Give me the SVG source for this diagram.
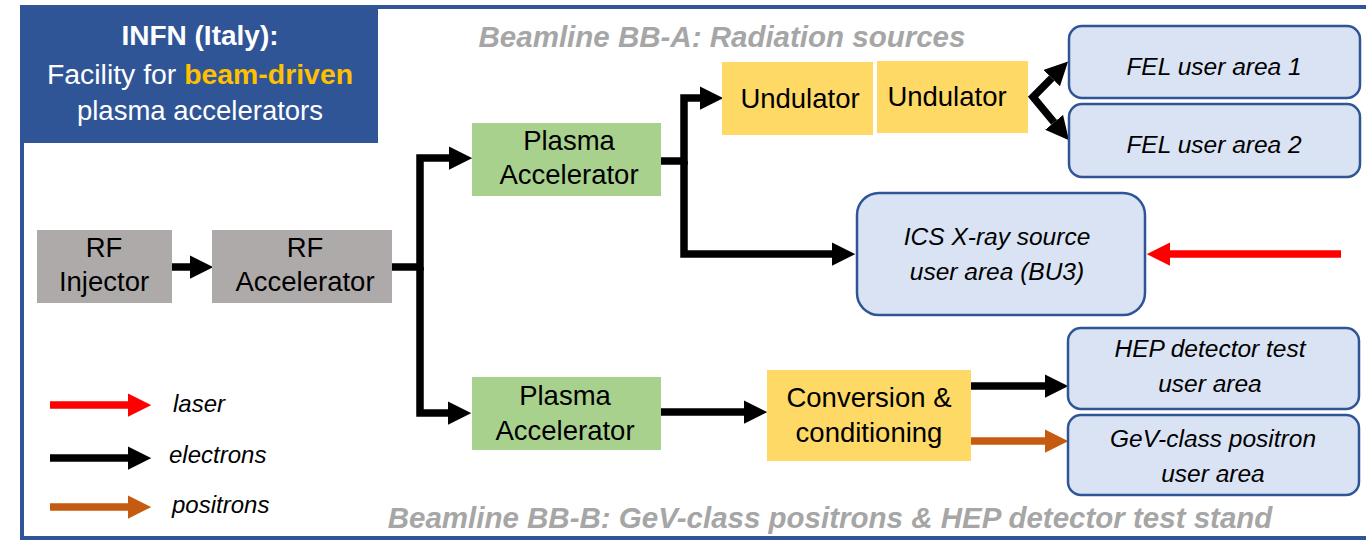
<svg xmlns="http://www.w3.org/2000/svg" width="1366" height="541" viewBox="0 0 1366 541">
<defs>
<style>
text{font-family:"Liberation Sans",Arial,sans-serif;text-anchor:middle;fill:#000}
.lbl{font-size:27.5px}
.it{font-size:24.5px;font-style:italic}
.leg{font-size:24px;font-style:italic;text-anchor:start}
.bl{font-size:29.5px;font-weight:bold;font-style:italic;fill:#A6A6A6}
.gray{fill:#AEAAAA}
.green{fill:#A9D18E}
.yellow{fill:#FFD966}
.user{fill:#DAE3F3;stroke:#2F5597;stroke-width:2.5}
.c{fill:none;stroke-width:7.5;stroke-linejoin:miter;stroke-linecap:butt}
.k{stroke:#000}
.r{stroke:#FF0000}
.o{stroke:#C55A11}
</style>
<marker id="ak" viewBox="0 0 10 10" refX="0" refY="5" markerWidth="3.1" markerHeight="3.1" orient="auto-start-reverse"><path d="M0,0L10,5L0,10z" fill="#000"/></marker>
<marker id="ar" viewBox="0 0 10 10" refX="0" refY="5" markerWidth="3.1" markerHeight="3.1" orient="auto"><path d="M0,0L10,5L0,10z" fill="#FF0000"/></marker>
<marker id="ao" viewBox="0 0 10 10" refX="0" refY="5" markerWidth="3.1" markerHeight="3.1" orient="auto"><path d="M0,0L10,5L0,10z" fill="#C55A11"/></marker>
</defs>
<rect width="1366" height="541" fill="#fff"/>
<g id="frame">
<path d="M22,540V7H1366M20,538H1366" fill="none" stroke="#2F5597" stroke-width="4"/>
</g>
<g id="title">
<rect x="20" y="5" width="358" height="138" fill="#2F5597"/>
<text x="200" y="45" style="font-size:28px;font-weight:bold;fill:#fff">INFN (Italy):</text>
<text x="200" y="84" style="font-size:28.4px;fill:#fff">Facility for <tspan style="font-weight:bold;fill:#FFC000">beam-driven</tspan></text>
<text x="200" y="120" style="font-size:27.5px;fill:#fff">plasma accelerators</text>
</g>
<g id="beamline-a"><text class="bl" x="722" y="47">Beamline BB-A: Radiation sources</text></g>
<g id="beamline-b"><text class="bl" x="830" y="528">Beamline BB-B: GeV-class positrons &amp; HEP detector test stand</text></g>
<g id="connectors">
<path class="c k" d="M172,267H190" marker-end="url(#ak)"/>
<path class="c k" d="M392,267H420V158H449" marker-end="url(#ak)"/>
<path class="c k" d="M420,267V413H448" marker-end="url(#ak)"/>
<path class="c k" d="M661,161H684V98H700" marker-end="url(#ak)"/>
<path class="c k" d="M684,161V254H832" marker-end="url(#ak)"/>
<path class="c k" d="M1051.7,78.1L1033,97L1054.1,122.3" marker-start="url(#ak)" marker-end="url(#ak)"/>
<path class="c r" d="M1341,254H1170" marker-end="url(#ar)"/>
<path class="c k" d="M661,412H744" marker-end="url(#ak)"/>
<path class="c k" d="M971,386H1045" marker-end="url(#ak)"/>
<path class="c o" d="M971,441H1045" marker-end="url(#ao)"/>
</g>
<g id="rf-injector"><rect class="gray" x="37" y="230" width="135" height="73"/><text class="lbl" x="104" y="257">RF</text><text class="lbl" x="104" y="291">Injector</text></g>
<g id="rf-accelerator"><rect class="gray" x="212" y="230" width="180" height="73"/><text class="lbl" x="305" y="257">RF</text><text class="lbl" x="305" y="291">Accelerator</text></g>
<g id="plasma-1"><rect class="green" x="472" y="123" width="189" height="73"/><text class="lbl" x="569" y="150">Plasma</text><text class="lbl" x="569" y="184">Accelerator</text></g>
<g id="plasma-2"><rect class="green" x="472" y="377" width="189" height="73"/><text class="lbl" x="565" y="405">Plasma</text><text class="lbl" x="565" y="440">Accelerator</text></g>
<g id="undulator-1"><rect class="yellow" x="722" y="62" width="151" height="73"/><text class="lbl" x="800" y="108">Undulator</text></g>
<g id="undulator-2"><rect class="yellow" x="877" y="61" width="151" height="72"/><text class="lbl" x="947" y="106">Undulator</text></g>
<g id="conversion"><rect class="yellow" x="767" y="370" width="204" height="91"/><text class="lbl" x="869" y="407">Conversion &amp;</text><text class="lbl" x="869" y="442">conditioning</text></g>
<g id="fel-1"><rect class="user" x="1069" y="26" width="291" height="72" rx="13"/><text class="it" x="1214" y="75">FEL user area 1</text></g>
<g id="fel-2"><rect class="user" x="1069" y="104" width="291" height="73" rx="13"/><text class="it" x="1214" y="153">FEL user area 2</text></g>
<g id="ics"><rect class="user" x="857" y="193" width="288" height="122" rx="22"/><text class="it" x="997" y="245">ICS X-ray source</text><text class="it" x="997" y="280">user area (BU3)</text></g>
<g id="hep"><rect class="user" x="1068" y="328" width="291" height="81" rx="13"/><text class="it" x="1210" y="357">HEP detector test</text><text class="it" x="1210" y="392">user area</text></g>
<g id="gev"><rect class="user" x="1068" y="415" width="291" height="80" rx="13"/><text class="it" x="1213" y="447">GeV-class positron</text><text class="it" x="1213" y="482">user area</text></g>
<g id="legend">
<path class="c r" d="M50,405H128" marker-end="url(#ar)"/>
<path class="c k" d="M50,458H128" marker-end="url(#ak)"/>
<path class="c o" d="M50,507H128" marker-end="url(#ao)"/>
<text class="leg" x="173" y="412">laser</text>
<text class="leg" x="169" y="463">electrons</text>
<text class="leg" x="172" y="513">positrons</text>
</g>
</svg>
